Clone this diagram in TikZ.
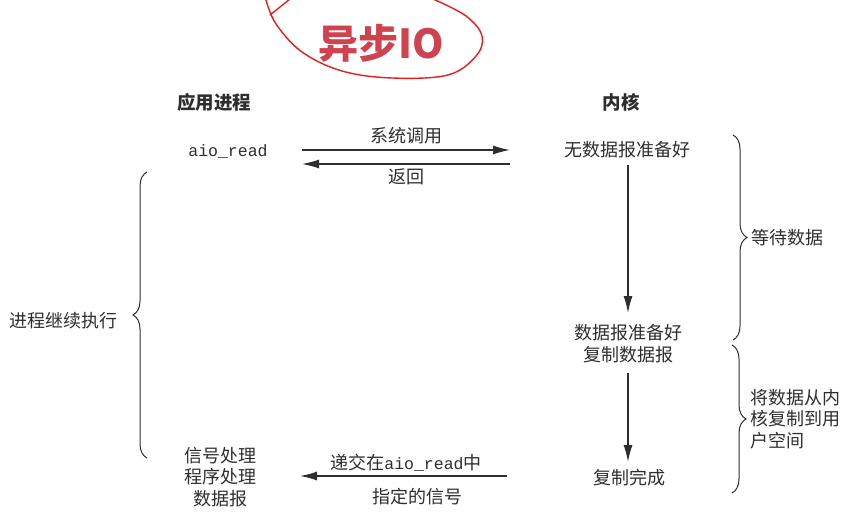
\documentclass[tikz,border=0pt]{standalone}
\usepackage{fontspec}
\setmainfont{Noto Sans CJK SC}
\setmonofont{Liberation Mono}
\usetikzlibrary{arrows.meta,decorations.pathreplacing}

\definecolor{ink}{HTML}{2E2E2E}
\definecolor{titlered}{HTML}{CF4250}
\definecolor{penred}{HTML}{E01E1E}

\tikzset{
  txt/.style={text=ink, font=\fontsize{18}{21.5}\selectfont, inner sep=1pt},
  head/.style={txt, font=\fontsize{18.5}{22}\selectfont\bfseries},
  msg/.style={draw=ink, line width=1.3pt, -{Latex[length=17pt,width=9pt]}},
  brc/.style={draw=ink, line width=1pt, decorate, decoration={brace, amplitude=14pt}}
}

\begin{document}
\begin{tikzpicture}[x=1pt,y=-1pt]
      \useasboundingbox (0,0) rectangle (866,521);
      % title with the red pen mark
      \node [text=titlered, font=\fontsize{40}{44}\selectfont\bfseries] (title) at (381,43) {异步IO};
      \draw [penred, line width=1.4pt, line cap=round] plot [smooth, tension=0.6] coordinates
        {(266,0) (276,24) (302,52) (342,71) (392,78) (448,75) (476,56) (482,36) (466,16) (433,-1)};
      \draw [penred, line width=1.4pt, line cap=round] (270,15) -- (290,-1);

      % column heads
      \node [head] (app) at (214,102) {应用进程};
      \node [head] (kern) at (621,102) {内核};

      % system call and return
      \node [txt, font=\fontsize{16.5}{20}\selectfont\ttfamily] (aio) at (228,151) {aio\_read};
      \node [txt] (nodata) at (627,150) {无数据报准备好};
      \coordinate (callL) at (302,150);
      \coordinate (callR) at (510,150);
      \coordinate (retL) at (302,164);
      \coordinate (retR) at (510,164);
      \draw [msg] (callL) -- node [txt, above=4pt] (call) {系统调用} (callR);
      \draw [msg] (retR) -- node [txt, below=3pt] (ret) {返回} (retL);

      % kernel side
      \node [txt] (ready) at (628,333) {数据报准备好};
      \node [txt] (copy) at (628,355) {复制数据报};
      \node [txt] (done) at (629,478) {复制完成};
      \coordinate (d1) at (628,165);
      \coordinate (d2) at (628,313);
      \coordinate (d3) at (628,373);
      \coordinate (d4) at (628,462);
      \draw [msg] (d1) -- (d2);
      \draw [msg] (d3) -- (d4);

      % signal back to the process
      \node [txt, align=center] (handler) at (220,477) {信号处理\\程序处理\\数据报};
      \coordinate (sigR) at (507,476);
      \coordinate (sigL) at (300,476);
      \draw [msg] (sigR) -- (sigL);
      \node [txt] (sig1) at (406,463) {递交在{\fontsize{16.5}{20}\selectfont\ttfamily aio\_read}中};
      \node [txt] (sig2) at (417,497) {指定的信号};

      % braces
      \coordinate (b1t) at (733,135);
      \coordinate (b1b) at (733,340);
      \coordinate (b2t) at (732,345);
      \coordinate (b2b) at (732,493);
      \coordinate (b3b) at (147,458);
      \coordinate (b3t) at (147,172);
      \draw [brc] (b1t) -- node [txt, right=17pt] (wait) {等待数据} (b1b);
      \draw [brc] (b2t) -- node [txt, right=17pt, align=left] (tocopy) {将数据从内\\核复制到用\\户空间} (b2b);
      \draw [brc] (b3b) -- node [txt, left=28pt, yshift=-6pt] (goon) {进程继续执行} (b3t);
    \end{tikzpicture}
\end{document}
